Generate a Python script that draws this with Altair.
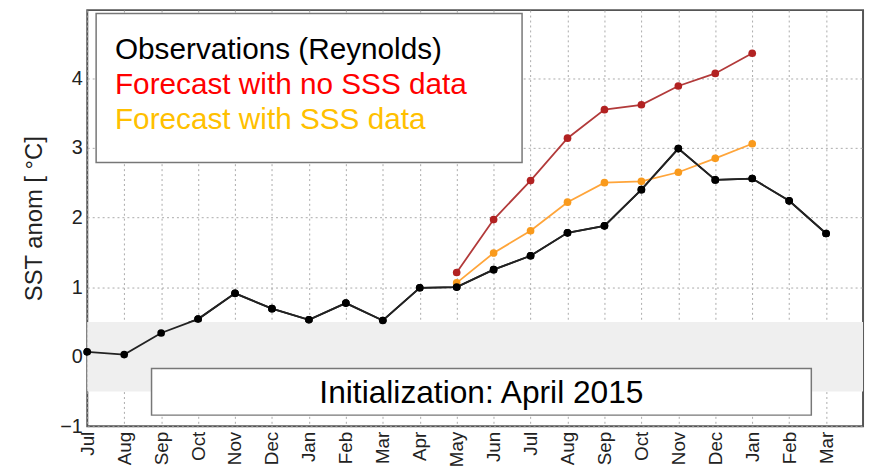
import altair as alt
import pandas as pd

months = ["Jul", "Aug", "Sep", "Oct", "Nov", "Dec", "Jan", "Feb", "Mar", "Apr", "May",
          "Jun", "Jul", "Aug", "Sep", "Oct", "Nov", "Dec", "Jan", "Feb", "Mar"]
obs = [0.07, 0.03, 0.34, 0.54, 0.91, 0.69, 0.53, 0.77, 0.52, 0.99, 1.0,
       1.25, 1.45, 1.78, 1.88, 2.40, 2.99, 2.54, 2.56, 2.24, 1.77]
fc_idx = list(range(10, 19))
no_sss = [1.21, 1.97, 2.53, 3.14, 3.55, 3.62, 3.89, 4.07, 4.36]
with_sss = [1.06, 1.49, 1.81, 2.22, 2.50, 2.52, 2.65, 2.85, 3.06]
legend_labels = ["Observations (Reynolds)", "Forecast with no SSS data", "Forecast with SSS data"]
legend_colors = ["#000000", "#ff0000", "#ffc000"]
init_label = "Initialization: April 2015"

FONT = "Liberation Sans"
XD = [0, 21]
YD = [-1, 4.98]

label_expr = "[" + ",".join(f"'{m}'" for m in months) + "][datum.value]"

xs = alt.Scale(domain=XD, nice=False, zero=False)
ys = alt.Scale(domain=YD, nice=False, zero=False)

df_obs = pd.DataFrame({"i": list(range(len(obs))), "v": obs})
df_no = pd.DataFrame({"i": fc_idx, "v": no_sss})
df_with = pd.DataFrame({"i": fc_idx, "v": with_sss})

x_axis = alt.Axis(
    values=list(range(21)), labelExpr=label_expr, labelAngle=270, labelAlign="right",
    labelBaseline="middle", labelFontSize=19, labelColor="#222", labelFont=FONT,
    title=None, grid=True, gridDash=[2, 3], gridColor="#aaaaaa", gridWidth=1,
    ticks=False, domain=False, labelPadding=5, labelFlush=False, labelOverlap=False,
    labelBound=False)
y_axis = alt.Axis(
    values=[-1, 0, 1, 2, 3, 4], labelExpr="format(datum.value, 'd')",
    title="SST anom [ °C]", titleFontSize=24,
    titleFont=FONT, titleFontWeight="normal", titleColor="#222", titlePadding=13,
    labelFontSize=20, labelColor="#222", labelFont=FONT, grid=True, gridDash=[2, 3],
    gridColor="#aaaaaa", ticks=False, domain=False, labelPadding=5,
    labelFlush=False, labelOverlap=False)


def xe(field):
    return alt.X(field, scale=xs, axis=x_axis)


def ye(field):
    return alt.Y(field, scale=ys, axis=y_axis)


band = alt.Chart(pd.DataFrame({"a": [-0.5], "b": [0.5]})).mark_rect(
    color="#efefef").encode(
    x=alt.value(0), x2=alt.value(783),
    y=ye("a:Q"), y2="b:Q")


def series(df, line_col, pt_col):
    l = alt.Chart(df).mark_line(color=line_col, strokeWidth=1.8).encode(x=xe("i:Q"), y=ye("v:Q"))
    p = alt.Chart(df).mark_circle(color=pt_col, size=60, opacity=1).encode(x=xe("i:Q"), y=ye("v:Q"))
    return l + p


box_df = pd.DataFrame({"x": [0.24, 1.74], "x2": [11.77, 19.6], "y": [4.93, -0.17], "y2": [2.79, -0.84]})
boxes = alt.Chart(box_df).mark_rect(fill="white", stroke="#777", strokeWidth=1.5).encode(
    x=xe("x:Q"), x2="x2:Q", y=ye("y:Q"), y2="y2:Q")

leg_df = pd.DataFrame({"t": legend_labels, "c": legend_colors, "x": [0.75] * 3, "y": [4.4, 3.9, 3.4]})
leg = alt.Chart(leg_df).mark_text(align="left", baseline="middle", fontSize=30, font=FONT).encode(
    x=xe("x:Q"), y=ye("y:Q"), text="t:N",
    color=alt.Color("c:N", scale=None))

init_df = pd.DataFrame({"t": [init_label], "x": [10.67], "y": [-0.52]})
init = alt.Chart(init_df).mark_text(align="center", baseline="middle", fontSize=32, font=FONT,
                                    color="#000").encode(
    x=xe("x:Q"), y=ye("y:Q"), text="t:N")

chart = alt.layer(
    series(df_obs, "#222222", "#000000"),
    band,
    series(df_no, "#b23a3a", "#b22222"),
    series(df_with, "#ffa53a", "#f99a1c"),
    series(df_obs, "#222222", "#000000"),
    boxes, leg, init,
).properties(
    width=783, height=420,
    autosize=alt.AutoSizeParams(type="none"),
    padding={"left": 80, "top": 0, "right": 4, "bottom": 42},
    background="white",
).configure_view(stroke="#555", strokeWidth=2)

chart.save("out.html", embed_options={"renderer": "svg", "actions": False})
